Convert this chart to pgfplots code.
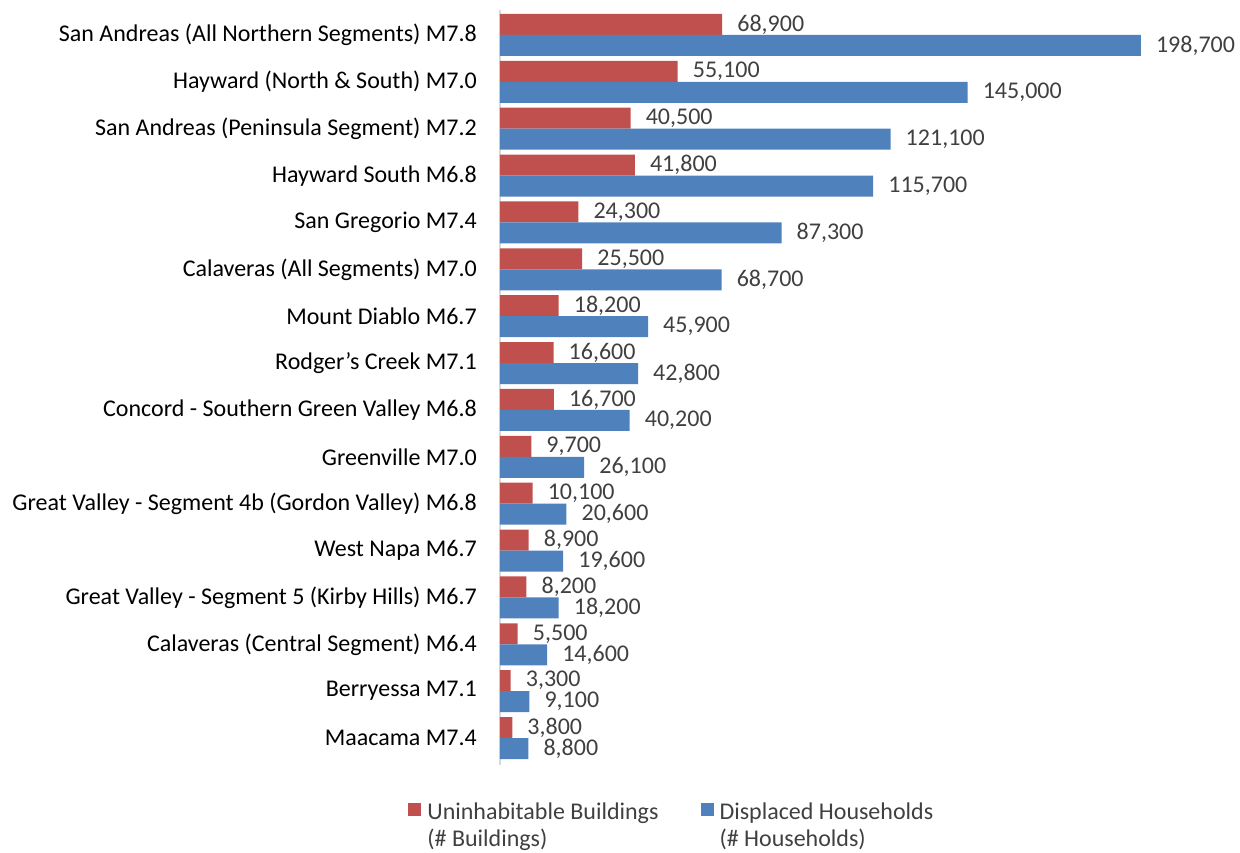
\documentclass[border=0pt]{standalone}
\usepackage{pgfplots}
\pgfplotsset{compat=1.18}
\usepackage{fontspec}
\setmainfont{Carlito}
\definecolor{cred}{HTML}{C0504D}
\definecolor{cblue}{HTML}{4F81BD}
\definecolor{lbl}{HTML}{404040}
\definecolor{axc}{HTML}{D9D9D9}
\begin{document}
\fontsize{24}{27}\selectfont
\begin{tikzpicture}
\useasboundingbox (0,0) rectangle (1240pt,-852pt);
\begin{axis}[
  at={(500pt,-765pt)}, anchor=south west,
  scale only axis, width=645pt, height=755pt,
  xbar, bar width=21pt,
  xmin=0, xmax=200000,
  ymin=-0.533, ymax=15.576, y dir=reverse,
  ytick={0,...,15},
  yticklabels={San Andreas (All Northern Segments) M7.8,
    Hayward (North \& South) M7.0,
    San Andreas (Peninsula Segment) M7.2,
    Hayward South M6.8,
    San Gregorio M7.4,
    Calaveras (All Segments) M7.0,
    Mount Diablo M6.7,
    Rodger's Creek M7.1,
    Concord - Southern Green Valley M6.8,
    Greenville M7.0,
    Great Valley - Segment 4b (Gordon Valley) M6.8,
    West Napa M6.7,
    Great Valley - Segment 5 (Kirby Hills) M6.7,
    Calaveras (Central Segment) M6.4,
    Berryessa M7.1,
    Maacama M7.4},
  yticklabel style={font=\fontsize{24}{27}\selectfont, color=black, xshift=-15pt},
  major tick length=0pt,
  axis x line=none,
  axis y line*=left,
  axis line style={-, draw=axc, line width=2pt},
  clip=false,
  nodes near coords,
  /pgf/number format/assume math mode=true,
  /pgf/number format/.cd, fixed, precision=0, 1000 sep={,},
  /pgfplots/.cd,
  nodes near coords style={font=\fontsize{24}{27}\selectfont, color=lbl, anchor=west, xshift=7pt},
  legend style={at={(rel axis cs:-0.147,-0.042)}, anchor=north west, draw=none, fill=none,
    font=\fontsize{24}{27}\selectfont, text=lbl,
    /tikz/every even column/.append style={column sep=40pt},
    legend cell align=left},
  legend columns=2,
]
\addplot[fill=cred, draw=none, bar shift=10.5pt,
  legend image code/.code={\fill[cred] (0pt,-4pt) rectangle (13pt,9pt); \path (17pt,2pt);}]
  coordinates {(68900,0) (55100,1) (40500,2) (41800,3) (24300,4) (25500,5) (18200,6) (16600,7) (16700,8) (9700,9) (10100,10) (8900,11) (8200,12) (5500,13) (3300,14) (3800,15)};
\addlegendentry{\begin{tabular}[t]{@{}l@{}}Uninhabitable Buildings\\(\# Buildings)\end{tabular}}
\addplot[fill=cblue, draw=none, bar shift=-10.5pt,
  legend image code/.code={\fill[cblue] (0pt,-4pt) rectangle (13pt,9pt); \path (17pt,2pt);}]
  coordinates {(198700,0) (145000,1) (121100,2) (115700,3) (87300,4) (68700,5) (45900,6) (42800,7) (40200,8) (26100,9) (20600,10) (19600,11) (18200,12) (14600,13) (9100,14) (8800,15)};
\addlegendentry{\begin{tabular}[t]{@{}l@{}}Displaced Households\\(\# Households)\end{tabular}}
\end{axis}
\end{tikzpicture}
\end{document}
